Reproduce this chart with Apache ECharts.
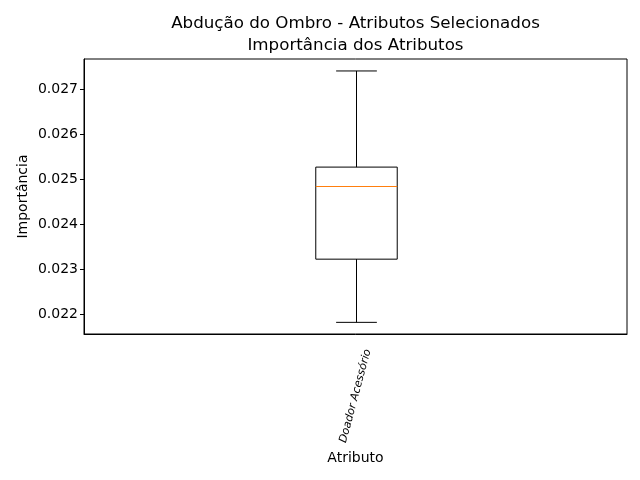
<!DOCTYPE html>
<html>
<head>
<meta charset="utf-8">
<script src="https://cdn.jsdelivr.net/npm/echarts@6/dist/echarts.min.js"></script>
<style>html,body{margin:0;padding:0;background:#fff;}#chart{width:640px;height:480px;}</style>
</head>
<body>
<div id="chart"></div>
<script>
var categories = ['Doador Acessório'];
// [min, q1, median, q3, max]
var boxValues = [[0.02183, 0.02323, 0.02484, 0.02527, 0.02740]];
var yTicks = [0.022, 0.023, 0.024, 0.025, 0.026, 0.027];
var yMin = 0.021572, yMax = 0.027665;
var titleLines = ['Abdução do Ombro - Atributos Selecionados', 'Importância dos Atributos'];

var chart = echarts.init(document.getElementById('chart'), null, {renderer: 'canvas'});
var font = 'DejaVu Sans';
var seriesData = boxValues.map(function (v, i) { return [i].concat(v); });

chart.setOption({
  animation: false,
  backgroundColor: '#fff',
  graphic: [{
    type: 'text', x: 355.5, y: 13,
    style: {text: titleLines.join('\n'), textAlign: 'center', textVerticalAlign: 'top',
      font: 'normal 16.7px "DejaVu Sans"', lineHeight: 22, fill: '#000'}
  }],
  grid: {left: 84, right: 13, top: 59, bottom: 146, show: true, borderColor: '#000', borderWidth: 1, backgroundColor: 'transparent'},
  xAxis: {
    type: 'category', data: categories, boundaryGap: true,
    name: 'Atributo', nameLocation: 'middle', nameGap: 117,
    nameTextStyle: {fontFamily: font, fontSize: 14, color: '#000'},
    axisLine: {lineStyle: {color: '#000', width: 1}},
    axisTick: {alignWithLabel: true, length: 4, lineStyle: {color: '#000'}},
    axisLabel: {rotate: 75, fontFamily: font, fontSize: 11, fontStyle: 'italic', color: '#000',
      align: 'center', verticalAlign: 'middle', margin: 62},
    splitLine: {show: false}
  },
  yAxis: {
    type: 'value', min: yMin, max: yMax,
    name: 'Importância', nameLocation: 'middle', nameGap: 54, nameRotate: 90, nameMoveOverlap: false,
    nameTextStyle: {fontFamily: font, fontSize: 14, color: '#000'},
    axisLine: {show: true, lineStyle: {color: '#000', width: 1}},
    axisTick: {show: true, length: 4, lineStyle: {color: '#000'}, customValues: yTicks},
    axisLabel: {fontFamily: font, fontSize: 14, color: '#000', margin: 6, customValues: yTicks,
      formatter: function (v) { return v.toFixed(3); }},
    splitLine: {show: false}
  },
  series: [{
    type: 'custom',
    data: seriesData,
    encode: {x: 0, y: [1, 2, 3, 4, 5]},
    renderItem: function (params, api) {
      var x = api.value(0);
      var pMin = api.coord([x, api.value(1)]);
      var pQ1 = api.coord([x, api.value(2)]);
      var pMed = api.coord([x, api.value(3)]);
      var pQ3 = api.coord([x, api.value(4)]);
      var pMax = api.coord([x, api.value(5)]);
      var bw = api.size([1, 0])[0] * 0.15;
      var cw = bw / 2;
      var cx = Math.round(pMin[0]) + 0.5;
      var st = {stroke: '#000', lineWidth: 1, fill: null};
      return {
        type: 'group',
        children: [
          {type: 'line', shape: {x1: cx, y1: pQ3[1], x2: cx, y2: pMax[1]}, style: st},
          {type: 'line', shape: {x1: cx, y1: pQ1[1], x2: cx, y2: pMin[1]}, style: st},
          {type: 'line', shape: {x1: cx - cw / 2, y1: pMax[1], x2: cx + cw / 2, y2: pMax[1]}, style: st},
          {type: 'line', shape: {x1: cx - cw / 2, y1: pMin[1], x2: cx + cw / 2, y2: pMin[1]}, style: st},
          {type: 'rect', shape: {x: cx - bw / 2, y: pQ3[1], width: bw, height: pQ1[1] - pQ3[1]}, style: {stroke: '#000', lineWidth: 1, fill: 'transparent'}},
          {type: 'line', shape: {x1: cx - bw / 2, y1: pMed[1], x2: cx + bw / 2, y2: pMed[1]}, style: {stroke: '#ff7f0e', lineWidth: 1}}
        ]
      };
    }
  }]
});
</script>
</body>
</html>
